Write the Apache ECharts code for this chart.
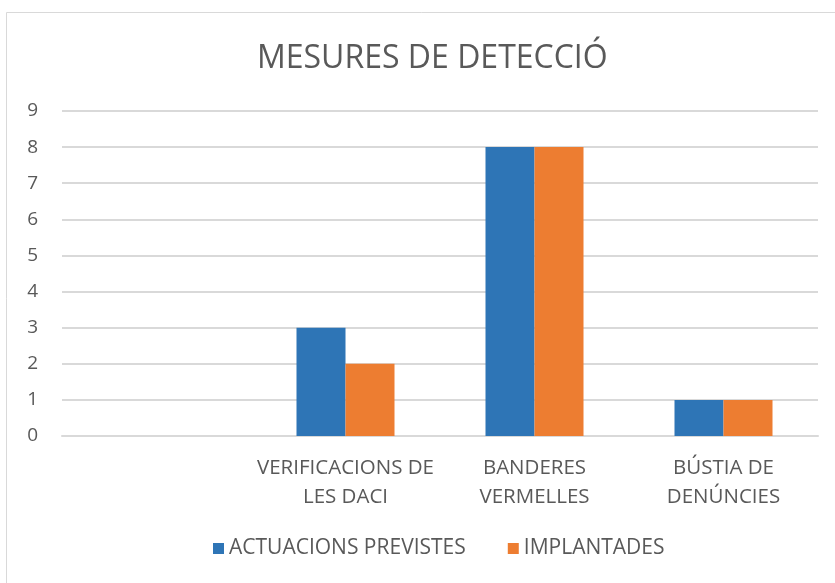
<!DOCTYPE html>
<html>
	<head>
		<title>Mesures de detecció</title>
		<script src="https://cdn.jsdelivr.net/npm/echarts@6/dist/echarts.min.js"></script>
	</head>
	<body style="margin:0;padding:0">
		<div id="chart" style="width: 835px;height:583px;border:none"></div>
	</body>
	<script type="text/javascript">
		var categories = ["", "VERIFICACIONS DE\nLES DACI", "BANDERES\nVERMELLES", "BÚSTIA DE\nDENÚNCIES"];
		var previstes = [null, 3, 8, 1];
		var implantades = [null, 2, 8, 1];
		var seriesNames = ["ACTUACIONS PREVISTES", "IMPLANTADES"];

		var font = "'Open Sans', sans-serif";
		var textColor = "#595959";

		var myChart = echarts.init(document.getElementById('chart'));
		var option = {
			backgroundColor: "#fff",
			animation: false,
			title: {
				text: "MESURES DE DETECCIÓ",
				left: 252,
				top: 38,
				textStyle: {
					color: textColor,
					fontFamily: font,
					fontWeight: "normal",
					fontSize: 32
				}
			},
			graphic: [{
				type: "rect",
				shape: { x: 6.5, y: 12.5, width: 900, height: 700 },
				style: { fill: "none", stroke: "#d9d9d9", lineWidth: 1 },
				silent: true
			}],
			legend: {
				data: seriesNames,
				bottom: 19,
				left: 208,
				icon: "rect",
				itemWidth: 11,
				itemHeight: 11,
				itemGap: 42,
				textStyle: {
					color: textColor,
					fontFamily: font,
					fontSize: 21
				}
			},
			grid: {
				left: 62,
				right: 17,
				top: 111,
				bottom: 147
			},
			xAxis: {
				type: "category",
				data: categories,
				axisLine: { lineStyle: { color: "#d9d9d9", width: 2 } },
				axisTick: { show: false },
				axisLabel: {
					color: textColor,
					fontFamily: font,
					fontSize: 20.5,
					lineHeight: 29,
					margin: 18,
					interval: 0
				}
			},
			yAxis: {
				type: "value",
				min: 0,
				max: 9,
				interval: 1,
				axisLine: { show: false },
				axisTick: { show: false },
				splitLine: { lineStyle: { color: "#d9d9d9", width: 2 } },
				axisLabel: {
					color: textColor,
					fontFamily: font,
					fontSize: 19,
					margin: 24
				}
			},
			series: [{
				name: seriesNames[0],
				type: "bar",
				data: previstes,
				barWidth: 49,
				barGap: "0%",
				itemStyle: { color: "#2e75b6" }
			}, {
				name: seriesNames[1],
				type: "bar",
				data: implantades,
				barWidth: 49,
				itemStyle: { color: "#ed7d31" }
			}]
		};
		myChart.setOption(option);
	</script>
</html>
